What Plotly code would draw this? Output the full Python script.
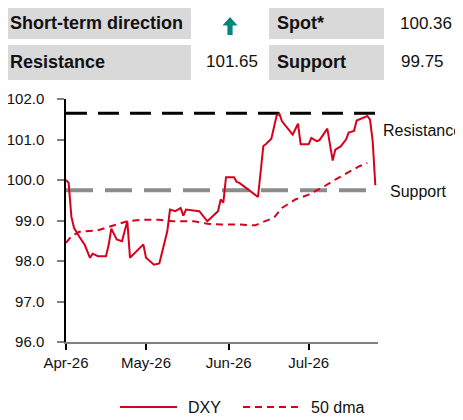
#!/usr/bin/env python3
"""DXY technical chart: spot vs 50 dma with resistance / support levels."""

from datetime import date, timedelta

import plotly.graph_objects as go

START = date(2026, 4, 1)

# DXY (day offset from 1 Apr 2026, level)
dxy_days = [0, 1, 2, 3, 5, 7, 9, 10, 12, 15, 16, 17, 19, 21, 22, 23, 24, 29, 30, 33,
            35, 38, 39, 41, 43, 44, 45, 47, 50, 53, 55, 57, 58, 59, 60, 63, 64, 65, 67,
            72, 74, 75, 77, 79, 80, 81, 85, 87, 88, 91, 92, 94, 95, 98, 100, 101, 103,
            105, 106, 108, 109, 113, 114, 115, 116]
dxy_vals = [100.00, 99.93, 99.10, 98.82, 98.60, 98.40, 98.08, 98.18, 98.12, 98.12, 98.40,
            98.80, 98.53, 98.49, 98.74, 98.98, 98.08, 98.41, 98.08, 97.91, 97.94, 98.74,
            99.27, 99.23, 99.31, 99.12, 99.27, 99.25, 99.23, 98.98, 99.10, 99.23, 99.52,
            99.44, 100.07, 100.07, 99.95, 99.93, 99.83, 99.58, 100.84, 100.89, 101.02,
            101.59, 101.64, 101.45, 101.12, 101.39, 100.88, 100.88, 101.04, 100.96, 100.98,
            101.27, 100.48, 100.75, 100.83, 101.00, 101.17, 101.21, 101.47, 101.58, 101.49,
            100.96, 99.87]

# 50-day moving average
dma_days = [0, 2, 5, 12, 15, 19, 23, 29, 35, 40, 48, 53, 58, 65, 71, 73, 78, 81, 86, 91,
            96, 101, 106, 110, 113]
dma_vals = [98.45, 98.61, 98.72, 98.76, 98.82, 98.90, 98.98, 99.02, 99.02, 98.98, 98.98,
            98.92, 98.90, 98.90, 98.88, 98.94, 99.07, 99.31, 99.52, 99.64, 99.81, 100.01,
            100.20, 100.34, 100.42]

resistance = 101.65
support = 99.75
spot = 100.36
level_days = [0, 117]
support_days = [0, 113]

tick_days = [0, 30, 61, 91]
tick_labels = ["Apr-26", "May-26", "Jun-26", "Jul-26"]

RED = "#d6001c"
TXT = "#111111"
GREY_CELL = "#d9d9d9"
FONT = "Liberation Sans, Arial, sans-serif"

W, H = 463, 420
OFF = 8  # the page body adds an 8px margin; layout below is in page pixels
L, R, T, B = 66 - OFF, 93, 99 - OFF, 86


def to_dates(days):
    return [START + timedelta(days=d) for d in days]


def px(x):
    return (x - OFF - L) / (W - L - R)


def py(y):
    return (H - B - (y - OFF)) / (H - T - B)


fig = go.Figure()
fig.add_trace(go.Scatter(x=to_dates(level_days), y=[resistance] * 2, mode="lines",
                         line=dict(color="#000000", width=3, dash="21px,11px"), hoverinfo="skip"))
fig.add_trace(go.Scatter(x=to_dates(support_days), y=[support] * 2, mode="lines",
                         line=dict(color="#8c8c8c", width=4, dash="27px,12px"), hoverinfo="skip"))
fig.add_trace(go.Scatter(x=to_dates(dma_days), y=dma_vals, mode="lines", name="50 dma",
                         line=dict(color=RED, width=2, dash="7px,5px")))
fig.add_trace(go.Scatter(x=to_dates(dxy_days), y=dxy_vals, mode="lines", name="DXY",
                         line=dict(color=RED, width=2)))

shapes = []
annotations = []

# header table
for x0, x1, y0, y1 in [(4, 191, 6, 39), (269, 384, 6, 39), (4, 191, 45, 80), (269, 384, 45, 80)]:
    shapes.append(dict(type="rect", xref="paper", yref="paper", x0=px(x0), x1=px(x1),
                       y0=py(y1), y1=py(y0), fillcolor=GREY_CELL, line_width=0, layer="below"))


def label(text, x, y, anchor="left", size=17, bold=False):
    annotations.append(dict(text=f"<b>{text}</b>" if bold else text, xref="paper", yref="paper",
                            x=px(x), y=py(y), xanchor=anchor, yanchor="middle", showarrow=False,
                            font=dict(family=FONT, size=size, color=TXT)))


label("Short-term direction", 8, 23, size=18, bold=True)
label("Spot*", 275, 23, size=18, bold=True)
label(f"{spot:.2f}", 426, 23, anchor="center")
label("Resistance", 8, 62, size=18, bold=True)
label(f"{resistance:.2f}", 232, 62, anchor="center")
label("Support", 275, 62, size=18, bold=True)
label(f"{support:.2f}", 422, 62, anchor="center")

# direction arrow (teal, pointing up)
arrow = [(230, 17), (237.5, 25.5), (232.6, 25.5), (232.6, 35), (227.4, 35), (227.4, 25.5), (222.5, 25.5)]
path = "M " + " L ".join(f"{px(x):.4f},{py(y):.4f}" for x, y in arrow) + " Z"
shapes.append(dict(type="path", xref="paper", yref="paper", path=path,
                   fillcolor="#00877a", line_width=0))

# level labels
label("Resistance", 381, 130, size=16)
label("Support", 388, 191, size=16)

# legend
shapes.append(dict(type="line", xref="paper", yref="paper", x0=px(120), x1=px(177),
                   y0=py(407), y1=py(407), line=dict(color=RED, width=2)))
shapes.append(dict(type="line", xref="paper", yref="paper", x0=px(243), x1=px(300),
                   y0=py(407), y1=py(407), line=dict(color=RED, width=2, dash="7px,5px")))
label("DXY", 186, 407, size=16)
label("50 dma", 309, 407, size=16)

fig.update_layout(
    width=W, height=H,
    margin=dict(l=L, r=R, t=T, b=B, autoexpand=False),
    paper_bgcolor="white", plot_bgcolor="white",
    showlegend=False,
    shapes=shapes,
    annotations=annotations,
    font=dict(family=FONT, size=15, color=TXT),
)
fig.update_xaxes(
    type="date", range=[START, START + timedelta(days=117)],
    tickvals=to_dates(tick_days), ticktext=tick_labels,
    showgrid=False, zeroline=False, automargin=False,
    showline=True, linecolor="#808080", linewidth=1.5,
    ticks="outside", ticklen=6, tickcolor="#000000", tickwidth=1.5,
    ticklabelstandoff=0,
    tickfont=dict(family=FONT, size=15, color=TXT),
)
fig.update_yaxes(
    range=[96, 102], dtick=1, tickformat=".1f",
    showgrid=False, zeroline=False, automargin=False,
    showline=True, linecolor="#000000", linewidth=1.5,
    ticks="outside", ticklen=7, tickcolor="#808080", tickwidth=1.5,
    ticklabelstandoff=10,
    tickfont=dict(family=FONT, size=15, color=TXT),
)

fig.write_html("out.html")
